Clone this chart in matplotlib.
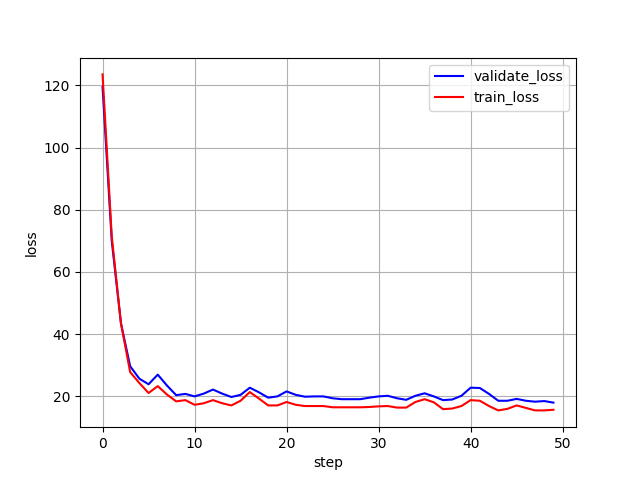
import numpy as np
import matplotlib
matplotlib.use("Agg")
import matplotlib.pyplot as plt

# loss values, one per step
steps = np.arange(50)
validate_loss = [
    119.5, 70.0, 43.5, 29.7, 25.7, 23.9, 27.0, 23.5, 20.4, 20.8,
    20.0, 20.9, 22.2, 20.9, 19.8, 20.5, 22.8, 21.3, 19.6, 20.0,
    21.6, 20.5, 19.9, 20.0, 20.0, 19.4, 19.1, 19.1, 19.1, 19.6,
    20.0, 20.2, 19.4, 18.9, 20.2, 21.0, 20.0, 18.8, 19.0, 20.2,
    22.8, 22.7, 20.8, 18.6, 18.6, 19.2, 18.6, 18.3, 18.5, 18.0,
]
train_loss = [
    123.5, 71.5, 43.5, 27.8, 24.3, 21.1, 23.3, 20.6, 18.4, 18.8,
    17.3, 17.8, 18.8, 17.8, 17.1, 18.6, 21.4, 19.3, 17.1, 17.1,
    18.2, 17.3, 16.9, 16.9, 16.9, 16.5, 16.5, 16.5, 16.5, 16.6,
    16.8, 16.9, 16.4, 16.4, 18.2, 19.1, 18.1, 15.9, 16.1, 16.9,
    18.8, 18.6, 16.9, 15.5, 16.0, 17.1, 16.3, 15.5, 15.5, 15.7,
]

fig, ax = plt.subplots(figsize=(6.4, 4.8), dpi=100)
ax.plot(steps, validate_loss, color="blue", label="validate_loss")
ax.plot(steps, train_loss, color="red", label="train_loss")
ax.set_xlabel("step")
ax.set_ylabel("loss")
ax.grid(True)
ax.legend(loc="upper right")
fig.savefig("out.png")
